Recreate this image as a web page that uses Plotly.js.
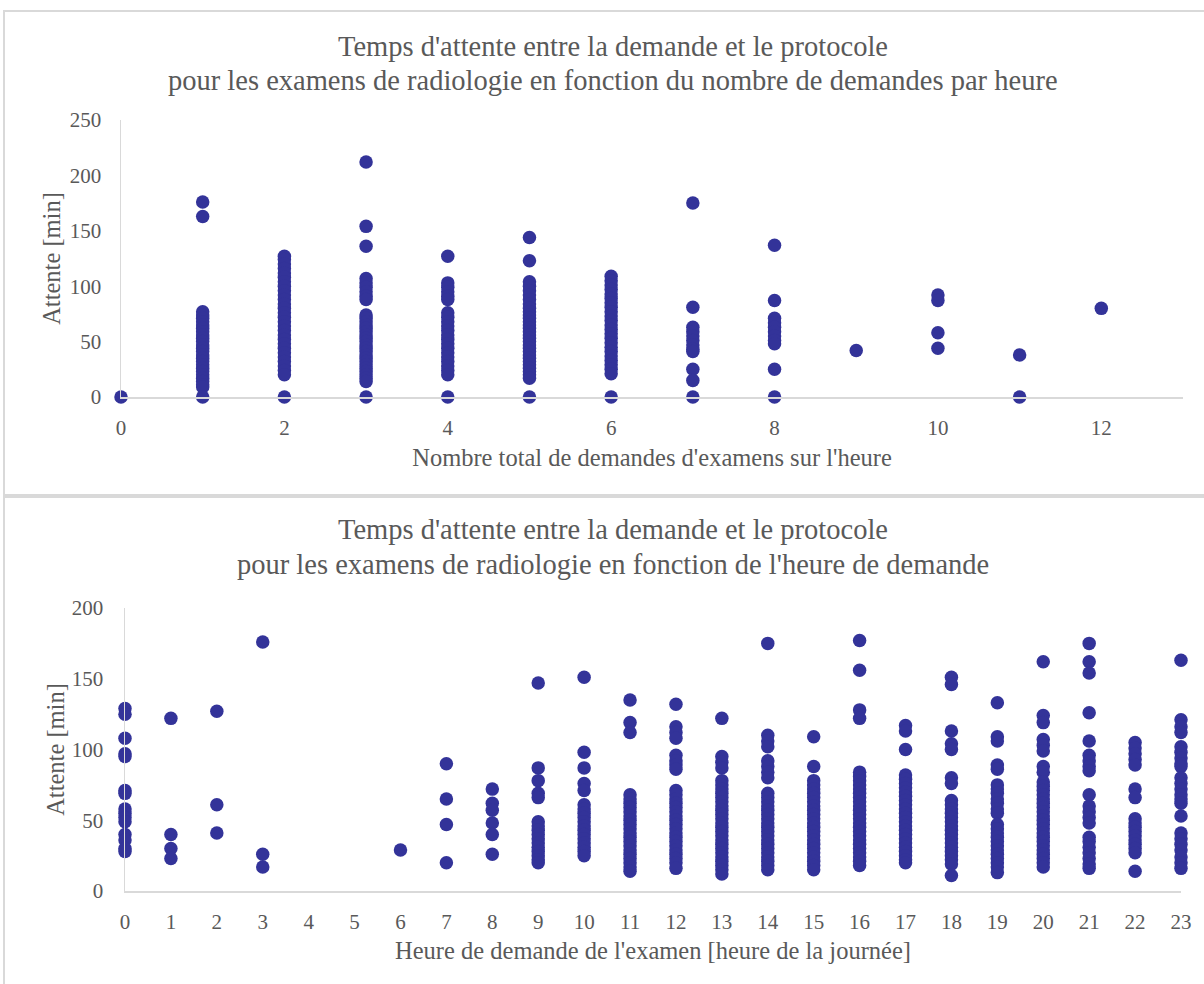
<!DOCTYPE html>
<html><head><meta charset="utf-8">
<script src="https://cdn.plot.ly/plotly-3.0.1.min.js"></script>
<style>html,body{margin:0;padding:0;background:#fff}#chart{width:1204px;height:984px}</style>
</head><body><div id="chart"></div>
<script>
// ---- Chart 1: wait vs number of requests in the hour ----
const countCategories = [0,1,2,3,4,5,6,7,8,9,10,11,12];
const wait_n0  = [0];
const wait_n1  = [176,163,77,74,71,68,65,62,59,56,53,50,47,44,41,38,35,32,29,26,23,20,17,14,11,9,0];
const wait_n2  = [127,124,120,116,112,108,104,100,96,92,88,84,80,76,72,68,64,60,56,52,48,44,40,36,32,28,24,20,0];
const wait_n3  = [212,154,136,107,103,99,95,91,88,74,71,68,65,62,59,56,53,50,47,44,41,38,35,32,29,26,23,20,17,14,0];
const wait_n4  = [127,103,99,95,91,88,76,72,68,64,60,56,52,48,44,40,36,32,28,24,20,0];
const wait_n5  = [144,123,104,100,96,92,88,84,80,77,74,71,68,65,62,59,56,53,50,47,44,41,38,35,32,29,26,23,20,17,0];
const wait_n6  = [109,105,101,97,93,89,85,81,77,73,69,65,61,57,53,49,45,41,37,33,29,25,21,0];
const wait_n7  = [175,81,63,59,55,51,47,43,41,25,15,0];
const wait_n8  = [137,87,71,67,63,59,55,51,48,25,0];
const wait_n9  = [42];
const wait_n10 = [92,87,58,44];
const wait_n11 = [38,0];
const wait_n12 = [80];

// ---- Chart 2: wait vs hour of request ----
const hourCategories = [0,1,2,3,4,5,6,7,8,9,10,11,12,13,14,15,16,17,18,19,20,21,22,23];
const wait_h0  = [129,125,108,97,95,71,69,58,55,52,49,40,36,30,28];
const wait_h1  = [122,40,30,23];
const wait_h2  = [127,61,41];
const wait_h3  = [176,26,17];
const wait_h4  = [];
const wait_h5  = [];
const wait_h6  = [29];
const wait_h7  = [90,65,47,20];
const wait_h8  = [72,62,57,48,40,26];
const wait_h9  = [147,87,78,69,66,49,46,43,40,37,34,31,28,25,22,20];
const wait_h10 = [151,98,87,76,71,61,58,55,52,49,46,43,40,37,34,31,28,25];
const wait_h11 = [135,119,112,68,65,62,59,56,53,50,47,44,41,38,35,32,29,26,23,20,17,14];
const wait_h12 = [132,116,112,108,96,92,89,86,71,68,65,62,59,56,53,50,47,44,41,38,35,32,29,26,23,20,16];
const wait_h13 = [122,95,91,87,78,75,72,69,66,63,60,57,54,51,48,45,42,39,36,33,30,27,24,21,18,15,12];
const wait_h14 = [175,110,106,102,92,88,84,80,69,66,63,60,57,54,51,48,45,42,39,36,33,30,27,24,21,18,15];
const wait_h15 = [109,88,78,75,72,69,66,63,60,57,54,51,48,45,42,39,36,33,30,27,24,21,18,15];
const wait_h16 = [177,156,128,122,84,81,78,75,72,69,66,63,60,57,54,51,48,45,42,39,36,33,30,27,24,21,18];
const wait_h17 = [117,113,100,82,79,76,73,70,67,64,61,58,55,52,49,46,43,40,37,34,31,28,25,22,20];
const wait_h18 = [151,146,113,104,100,80,76,64,61,58,55,52,49,46,43,40,37,34,31,28,25,22,19,11];
const wait_h19 = [133,109,106,89,86,75,72,69,65,62,58,55,47,44,41,38,35,32,29,26,23,20,17,13];
const wait_h20 = [162,124,119,107,103,99,88,84,77,74,71,68,65,62,59,56,53,50,47,44,41,38,35,32,29,26,23,20,17];
const wait_h21 = [175,162,154,126,106,96,92,88,85,68,60,56,52,48,38,35,31,27,23,19,16];
const wait_h22 = [105,101,97,93,89,72,66,51,48,45,42,39,36,33,30,27,14];
const wait_h23 = [163,121,116,112,102,98,94,90,88,80,76,72,68,65,62,53,41,37,33,29,24,20,16];

const countTickLabels = ['0','2','4','6','8','10','12'];
const hourTickLabels = hourCategories.map(String);

const title1a = "Temps d'attente entre la demande et le protocole";
const title1b = "pour les examens de radiologie en fonction du nombre de demandes par heure";
const title2a = "Temps d'attente entre la demande et le protocole";
const title2b = "pour les examens de radiologie en fonction de l'heure de demande";
const xTitle1 = "Nombre total de demandes d'examens sur l'heure";
const xTitle2 = "Heure de demande de l'examen [heure de la journée]";
const yTitle = "Attente [min]";

const waitByCount = [wait_n0,wait_n1,wait_n2,wait_n3,wait_n4,wait_n5,wait_n6,wait_n7,wait_n8,wait_n9,wait_n10,wait_n11,wait_n12];
const waitByHour = [wait_h0,wait_h1,wait_h2,wait_h3,wait_h4,wait_h5,wait_h6,wait_h7,wait_h8,wait_h9,wait_h10,wait_h11,wait_h12,wait_h13,wait_h14,wait_h15,wait_h16,wait_h17,wait_h18,wait_h19,wait_h20,wait_h21,wait_h22,wait_h23];

function flatten(cats, groups) {
  const xs = [], ys = [];
  cats.forEach((c, i) => groups[i].forEach(v => { xs.push(c); ys.push(v); }));
  return {xs, ys};
}
const d1 = flatten(countCategories, waitByCount);
const d2 = flatten(hourCategories, waitByHour);

const W = 1204, H = 984;
const px = v => v / W;
const py = v => (H - v) / H;

const markerColor = '#333399';
const gray = '#595959';
const lineGray = '#d9d9d9';
const FONT = 'Liberation Serif, Times New Roman, serif';

const traces = [
  {type:'scatter', mode:'markers', x:d1.xs, y:d1.ys, xaxis:'x', yaxis:'y',
   marker:{color:markerColor, size:13.5}, cliponaxis:false, showlegend:false, hoverinfo:'x+y'},
  {type:'scatter', mode:'markers', x:d2.xs, y:d2.ys, xaxis:'x2', yaxis:'y2',
   marker:{color:markerColor, size:13.5}, cliponaxis:false, showlegend:false, hoverinfo:'x+y'}
];

const tickFont = {family:FONT, size:21, color:gray};
const axTitleFont = {family:FONT, size:24.5, color:gray};
const titleFont = {family:FONT, size:28.5, color:gray};

function titleLine(text, yPx) {
  return {text:text, xref:'paper', yref:'paper', x:px(613), y:py(yPx), xanchor:'center', yanchor:'middle',
          showarrow:false, font:titleFont, align:'center'};
}

const layout = {
  width: W, height: H,
  margin: {l:0, r:0, t:0, b:0},
  paper_bgcolor:'#fff', plot_bgcolor:'rgba(0,0,0,0)',
  font: {family:FONT, color:gray},
  showlegend:false,
  xaxis: {domain:[px(121), px(1183)], range:[0,13], anchor:'y',
    tickvals:[0,2,4,6,8,10,12], ticktext:countTickLabels,
    showgrid:false, zeroline:false, showline:true, linecolor:lineGray, linewidth:1.5,
    ticks:'', ticklabelstandoff:11, tickfont:tickFont, automargin:false,
    title:{text:xTitle1, font:axTitleFont, standoff:10}},
  yaxis: {domain:[py(397), py(120)], range:[0,250], anchor:'x',
    tickvals:[0,50,100,150,200,250],
    showgrid:false, zeroline:false, showline:true, linecolor:lineGray, linewidth:1.5,
    ticks:'', ticklabelstandoff:14, tickfont:tickFont, automargin:false,
    title:{text:yTitle, font:axTitleFont, standoff:2}},
  xaxis2: {domain:[px(125), px(1181)], range:[0,23], anchor:'y2',
    tickvals:hourCategories, ticktext:hourTickLabels,
    showgrid:false, zeroline:false, showline:true, linecolor:lineGray, linewidth:1.5,
    ticks:'', ticklabelstandoff:11, tickfont:tickFont, automargin:false,
    title:{text:xTitle2, font:axTitleFont, standoff:9}},
  yaxis2: {domain:[py(891), py(608)], range:[0,200], anchor:'x2',
    tickvals:[0,50,100,150,200],
    showgrid:false, zeroline:false, showline:true, linecolor:lineGray, linewidth:1.5,
    ticks:'', ticklabelstandoff:16, tickfont:tickFont, automargin:false,
    title:{text:yTitle, font:axTitleFont, standoff:0}},
  annotations: [
    titleLine(title1a, 47),
    titleLine(title1b, 80),
    titleLine(title2a, 529),
    titleLine(title2b, 564)
  ],
  shapes: [
    {type:'rect', xref:'paper', yref:'paper', x0:px(4), x1:px(1210), y0:py(495), y1:py(11),
     line:{color:lineGray, width:2}, fillcolor:'rgba(0,0,0,0)', layer:'below'},
    {type:'rect', xref:'paper', yref:'paper', x0:px(4), x1:px(1210), y0:py(990), y1:py(497),
     line:{color:lineGray, width:2}, fillcolor:'rgba(0,0,0,0)', layer:'below'}
  ]
};

Plotly.newPlot('chart', traces, layout, {displayModeBar:false, staticPlot:true});
</script>
</body></html>
